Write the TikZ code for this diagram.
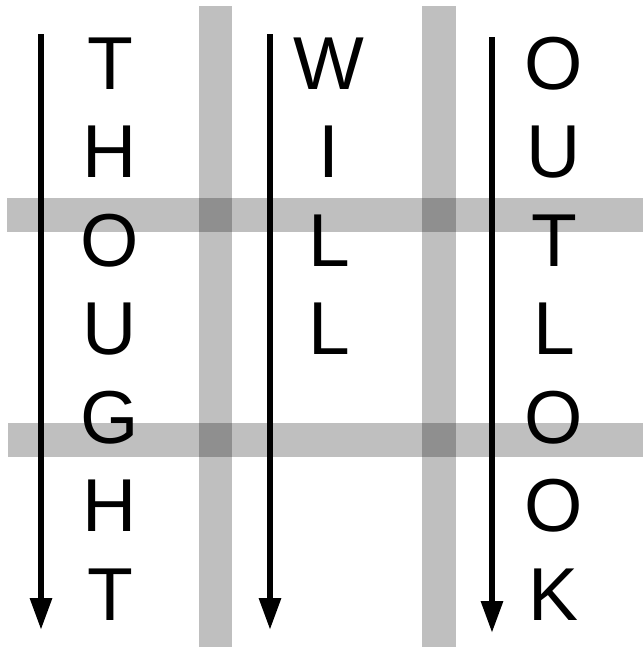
\documentclass[tikz,border=0pt]{standalone}
\usepackage{fontspec}
\setmainfont{Liberation Sans}
\usetikzlibrary{arrows.meta}

\begin{document}
\begin{tikzpicture}[x=1pt,y=-1pt,
    letter/.style={anchor=base, inner sep=0pt, font=\fontsize{75}{90}\selectfont},
    readarrow/.style={line width=6pt, -{Triangle[length=32pt,width=21pt]}},
    bar/.style={fill=black, fill opacity=0.25}]
            \useasboundingbox (0,0) rectangle (643,649);
            % Shaded bars (columns and rows)
            \fill[bar] (199,6) rectangle (232,647);
            \fill[bar] (422,6) rectangle (456,647);
            \fill[bar] (7,198) rectangle (643,232);
            \fill[bar] (8,423) rectangle (643,457);

            % First word
            \node[letter] (th1) at (110,89) {T};
            \node[letter] (th2) at (110,177.5) {H};
            \node[letter] (th3) at (110,266) {O};
            \node[letter] (th4) at (110,354.5) {U};
            \node[letter] (th5) at (110,443) {G};
            \node[letter] (th6) at (110,531.5) {H};
            \node[letter] (th7) at (110,620) {T};
            % Second word
            \node[letter] (wi1) at (329,89) {W};
            \node[letter] (wi2) at (329,177.5) {I};
            \node[letter] (wi3) at (329,266) {L};
            \node[letter] (wi4) at (329,354.5) {L};
            % Third word
            \node[letter] (ou1) at (554,89) {O};
            \node[letter] (ou2) at (554,177.5) {U};
            \node[letter] (ou3) at (554,266) {T};
            \node[letter] (ou4) at (554,354.5) {L};
            \node[letter] (ou5) at (554,443) {O};
            \node[letter] (ou6) at (554,531.5) {O};
            \node[letter] (ou7) at (554,620) {K};

            % Reading direction
            \coordinate (r1s) at (41,34);
            \coordinate (r1e) at (41,630);
            \coordinate (r2s) at (270,34);
            \coordinate (r2e) at (270,630);
            \coordinate (r3s) at (492,37);
            \coordinate (r3e) at (492,633);
            \draw[readarrow] (r1s) -- (r1e);
            \draw[readarrow] (r2s) -- (r2e);
            \draw[readarrow] (r3s) -- (r3e);
        \end{tikzpicture}
\end{document}
